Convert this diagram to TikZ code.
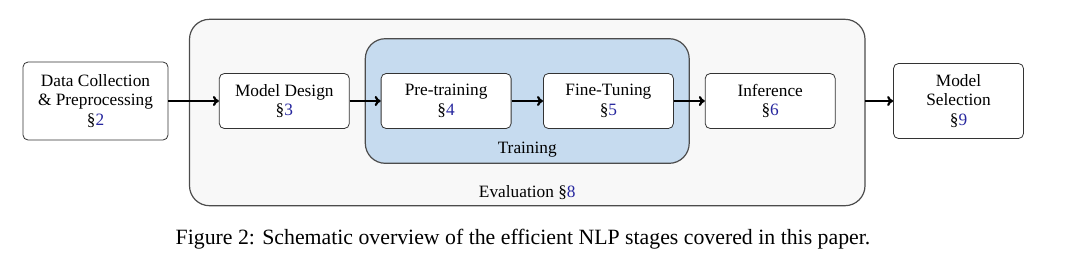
\documentclass[tikz,border=0pt]{standalone}
\usepackage{fontspec}
\setmainfont{Liberation Serif}
\usepackage{xcolor}
\usepackage{tikz}
\usetikzlibrary{arrows.meta,positioning,fit,backgrounds,calc}
\definecolor{Ltrain}{HTML}{C6DBEF}
\definecolor{Leval}{HTML}{F8F8F8}
\definecolor{Lref}{HTML}{26269E}
\newcommand{\secref}[1]{\S\textcolor{Lref}{#1}}

\begin{document}
\begin{tikzpicture}[
  >={To[length=3pt,width=5pt]},
  box/.style={draw=black!80, fill=white, rounded corners=2.5pt, minimum width=65pt,
    minimum height=27.5pt, align=center, font=\fontsize{8.65}{9.7}\selectfont},
  group/.style={draw=black!70, line width=0.6pt, rounded corners=10pt},
  flow/.style={->, line width=1.1pt},
  glab/.style={anchor=base, font=\fontsize{8.65}{9.7}\selectfont},
]
\useasboundingbox (0,0) rectangle (540pt,-132pt);

% ── stages ───────────────────────────────────────────────────────────
\node[box, minimum width=72.5pt, minimum height=39pt] (data) at (47.75pt,-50.5pt)
  {Data Collection\\\& Preprocessing\\\secref{2}};
\node[box, right=25.25pt of data] (md) {Model Design\\\secref{3}};
\node[box, right=15.5pt of md] (pre) {Pre-training\\\secref{4}};
\node[box, right=15.75pt of pre] (fine) {Fine-Tuning\\\secref{5}};
\node[box, right=15.5pt of fine] (inf) {Inference\\\secref{6}};
\node[box, right=28.75pt of inf, minimum height=37.5pt] (ms) {Model\\Selection\\\secref{9}};

% ── groups: training inside evaluation ───────────────────────────────
\node[inner xsep=7.5pt, inner ysep=17pt, fit=(pre)(fine)] (train) {};
\coordinate (evbot) at ($(train.south)+(0,-11.5pt)$);
\node[inner xsep=14.5pt, inner ysep=9.5pt, fit=(md)(inf)(train)(evbot)] (eval) {};
\begin{scope}[on background layer]
  \node[group, fill=Leval, inner sep=0pt, fit=(eval)] (evalbox) {};
  \node[group, fill=Ltrain, inner sep=0pt, fit=(train)] (trainbox) {};
\end{scope}
\node[glab] (trainlab) at ($(train.south)+(0,5pt)$) {Training};
\node[glab] (evallab) at ($(eval.south)+(0,4pt)$) {Evaluation \secref{8}};

% edges
\draw[flow] (data) -- (md);
\draw[flow] (md) -- (pre);
\draw[flow] (pre) -- (fine);
\draw[flow] (fine) -- (inf);
\draw[flow] (eval.east |- ms.west) -- (ms);

% ── caption ──────────────────────────────────────────────────────────
\node[anchor=base, font=\fontsize{10.9}{13}\selectfont] (caption) at (261.5pt,-122pt)
  {Figure 2: Schematic overview of the efficient NLP stages covered in this paper.};

\end{tikzpicture}
\end{document}
